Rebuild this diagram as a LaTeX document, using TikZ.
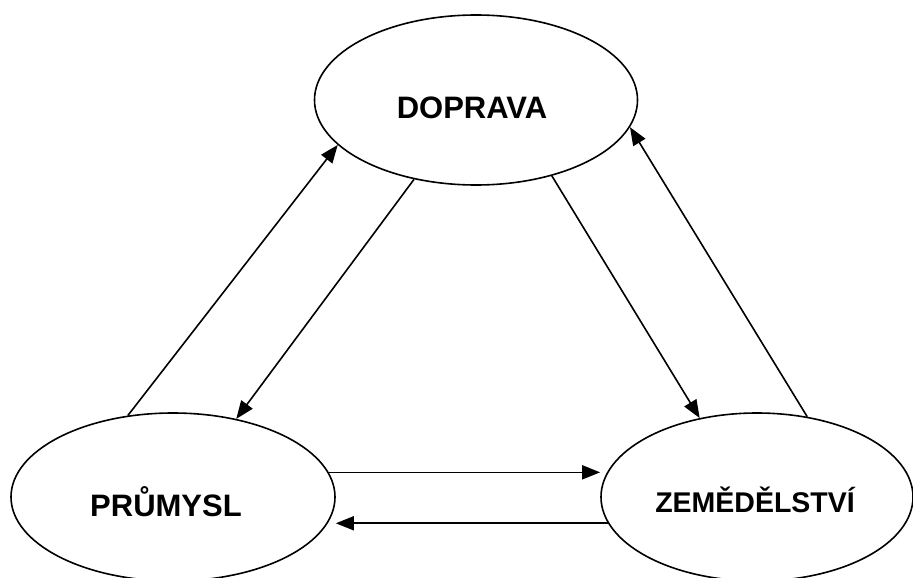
\documentclass[tikz,border=0pt]{standalone}
\usepackage{fontspec}
\setmainfont{Liberation Sans}
\usetikzlibrary{shapes.geometric,arrows.meta}
\tikzset{
  oval/.style={draw=black, line width=1.6pt, ellipse, inner sep=0pt},
  lbl/.style={anchor=base, inner sep=0pt, font=\bfseries\fontsize{31}{36}\selectfont},
  lbls/.style={anchor=base, inner sep=0pt, font=\bfseries\fontsize{28.5}{34}\selectfont},
  conn/.style={line width=1.6pt, -{Triangle[length=18pt,width=14pt]}}
}
\begin{document}
\begin{tikzpicture}[x=1pt,y=-1pt]
\useasboundingbox (0,0) rectangle (913,578);
\node[oval, minimum width=323pt, minimum height=170pt] (D) at (476,100) {};
\node[oval, minimum width=324pt, minimum height=168pt] (P) at (173,497) {};
\node[oval, minimum width=312pt, minimum height=168pt] (Z) at (757,497) {};
\node[lbl] (dt) at (472,118) {DOPRAVA};
\node[lbl] (pt) at (166,516) {PRŮMYSL};
\node[lbls] (zt) at (755,512.7) {ZEMĚDĚLSTVÍ};
\draw[conn] (P.119.2) -- (D.198.6);
\draw[conn] (D.232.6) -- (P.51.4);
\draw[conn] (D.315.3) -- (Z.126.4);
\draw[conn] (Z.58.2) -- (D.350.3);
\draw[conn] (P.9.5) -- (P.9.5 -| Z.west);
\draw[conn] (Z.190.9) -- (Z.190.9 -| P.east);
\end{tikzpicture}
\end{document}
